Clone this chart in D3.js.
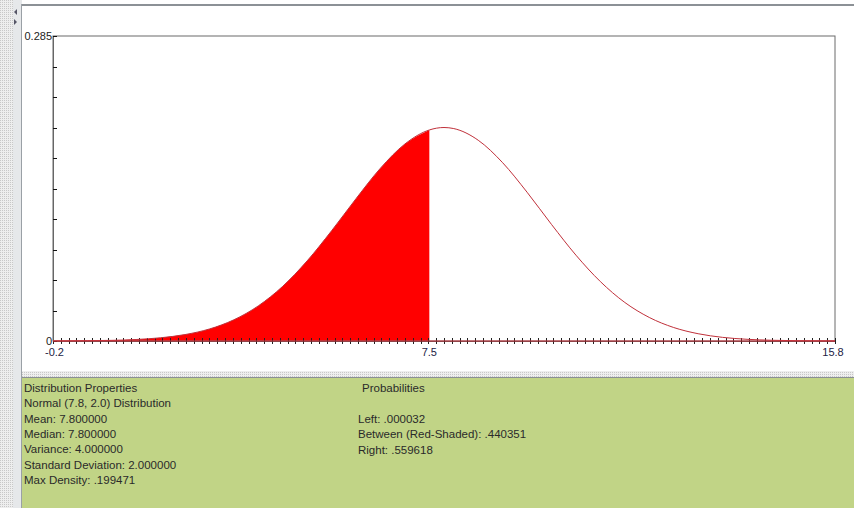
<!DOCTYPE html>
<meta charset="utf-8">
<body style="margin:0;background:#fff">
<script src="https://d3js.org/d3.v7.min.js"></script>
<div id="my_dataviz"></div>
</body>
<script>

// density values, every 0.5 units
var xValues = [-0.2, 0.5, 1, 1.5, 2, 2.5, 3, 3.5, 4, 4.5, 5, 5.5, 6, 6.5, 7, 7.5, 7.8,
               8, 8.5, 9, 9.5, 10, 10.5, 11, 11.5, 12, 12.5, 13, 13.5, 14, 14.5, 15, 15.8]
var densities = [0.0001, 0.0003, 0.0006, 0.0014, 0.003, 0.006, 0.0112, 0.0198, 0.0328, 0.0511, 0.0749, 0.103, 0.133, 0.1615, 0.1841, 0.1972, 0.1995,
                 0.1985, 0.1876, 0.1666, 0.139, 0.1089, 0.0802, 0.0555, 0.036, 0.022, 0.0126, 0.0068, 0.0034, 0.0016, 0.0007, 0.0003, 0.0001]
var xDomain = [-0.2, 15.8]
var yDomain = [0, 0.285]
var shadeTo = 7.5
var xLabels = [-0.2, 7.5, 15.8]
var yLabels = [0, 0.285]

var propLines = ["Distribution Properties", "Normal (7.8, 2.0) Distribution", "Mean: 7.800000",
                 "Median: 7.800000", "Variance: 4.000000", "Standard Deviation: 2.000000", "Max Density: .199471"]
var probTitle = "Probabilities"
var probLines = ["Left: .000032", "Between (Red-Shaded): .440351", "Right: .559618"]

var W = 854, H = 508
var margin = {top: 36, left: 53, right: 19, bottom: 167}
var width = W - margin.left - margin.right,
    height = H - margin.top - margin.bottom

var svg = d3.select("#my_dataviz")
  .append("svg")
    .attr("width", W)
    .attr("height", H)
    .style("display", "block")
    .style("font-family", "'Liberation Sans', Arial, sans-serif")

// dotted texture for the splitters
var defs = svg.append("defs")
var pat = defs.append("pattern")
  .attr("id", "dots").attr("width", 2).attr("height", 2)
  .attr("patternUnits", "userSpaceOnUse")
pat.append("rect").attr("width", 2).attr("height", 2).attr("fill", "#eeeeee")
pat.append("rect").attr("width", 1).attr("height", 1).attr("fill", "#c8c8c8")

// window chrome
svg.append("rect").attr("x", 0).attr("y", 0).attr("width", 13).attr("height", H).attr("fill", "url(#dots)")
svg.append("rect").attr("x", 13).attr("y", 0).attr("width", 9).attr("height", H).attr("fill", "#e6e8ea")
svg.append("line").attr("x1", 21.5).attr("x2", 21.5).attr("y1", 4).attr("y2", H).attr("stroke", "#9aa0a6")
svg.append("rect").attr("x", 22).attr("y", 4).attr("width", W - 22).attr("height", 2).attr("fill", "#8c9196")
svg.append("path").attr("d", "M17,9 L14,12 L17,15 Z").attr("fill", "#556")
svg.append("path").attr("d", "M14,19 L17,22 L14,25 Z").attr("fill", "#556")

// splitter + green panel
svg.append("rect").attr("x", 22).attr("y", 371).attr("width", W - 22).attr("height", 6).attr("fill", "url(#dots)")
svg.append("rect").attr("x", 22).attr("y", 377).attr("width", W - 22).attr("height", 1).attr("fill", "#8a8f94")
svg.append("rect").attr("x", 22).attr("y", 378).attr("width", W - 22).attr("height", H - 378).attr("fill", "#c1d486")

var g = svg.append("g")
  .attr("transform", "translate(" + margin.left + "," + margin.top + ")")

var x = d3.scaleLinear().domain(xDomain).range([0, width])
var y = d3.scaleLinear().domain(yDomain).range([height, 0])

var data = xValues.map(function(v, i) { return {x: v, y: densities[i]} })

// red shaded area
g.append("path")
  .datum(data.filter(function(d) { return d.x <= shadeTo }))
  .attr("d", d3.area()
    .x(function(d) { return x(d.x) })
    .y0(height)
    .y1(function(d) { return y(d.y) })
    .curve(d3.curveMonotoneX))
  .attr("fill", "#ff0000")

// plot frame
g.append("rect")
  .attr("x", 0).attr("y", 0).attr("width", width).attr("height", height)
  .attr("fill", "none").attr("stroke", "#6a6a6a")

// x axis ticks
var xAxis = g.append("g")
  .attr("transform", "translate(0," + height + ")")
  .attr("shape-rendering", "crispEdges")
  .call(d3.axisBottom(x).tickValues(d3.range(101).map(function(i) { return xDomain[0] + i * 0.16 }))
    .tickSizeInner(3).tickSizeOuter(0).tickFormat(""))
xAxis.select(".domain").attr("stroke", "#555")
xAxis.selectAll(".tick line").attr("y1", -3).attr("stroke", "#222")

// y axis ticks
var yAxis = g.append("g")
  .attr("shape-rendering", "crispEdges")
  .call(d3.axisLeft(y).tickValues(d3.range(11).map(function(i) { return i * 0.0285 }))
    .tickSizeInner(5).tickSizeOuter(0).tickFormat(""))
yAxis.select(".domain").attr("stroke", "#666")
yAxis.selectAll(".tick line").attr("x2", 4).attr("stroke", "#111")

// curve line
g.append("path")
  .datum(data)
  .attr("d", d3.line()
    .x(function(d) { return x(d.x) })
    .y(function(d) { return y(d.y) })
    .curve(d3.curveMonotoneX))
  .attr("fill", "none")
  .attr("stroke", "#c0303a")
  .attr("stroke-width", 1)

// baseline in red
g.append("line")
  .attr("x1", 0).attr("x2", width).attr("y1", height).attr("y2", height)
  .attr("stroke", "#d0303a")

// axis labels
g.selectAll(".xlab")
  .data(xLabels)
  .join("text")
    .attr("x", function(d) { return x(d) })
    .attr("y", height + 15)
    .attr("text-anchor", function(d, i) { return i === 0 ? "start" : "middle" })
    .attr("dx", function(d, i) { return i === 0 ? -8 : (i === 2 ? -2 : 0) })
    .style("font-size", "11px")
    .style("fill", "#222244")
    .text(function(d) { return d })

g.selectAll(".ylab")
  .data(yLabels)
  .join("text")
    .attr("x", -1)
    .attr("y", function(d) { return y(d) + 4 })
    .attr("text-anchor", "end")
    .style("font-size", "11px")
    .style("fill", "#222")
    .text(function(d) { return d })

// properties text
svg.append("g").selectAll("text")
  .data(propLines)
  .join("text")
    .attr("x", 24)
    .attr("y", function(d, i) { return 392 + i * 15.3 })
    .style("font-size", "11.5px")
    .style("fill", "#2a2a2a")
    .text(function(d) { return d })

svg.append("text")
  .attr("x", 362).attr("y", 392)
  .style("font-size", "11.5px").style("fill", "#2a2a2a")
  .text(probTitle)

svg.append("g").selectAll("text")
  .data(probLines)
  .join("text")
    .attr("x", 358)
    .attr("y", function(d, i) { return 423 + i * 15.3 })
    .style("font-size", "11.5px")
    .style("fill", "#2a2a2a")
    .text(function(d) { return d })

</script>
